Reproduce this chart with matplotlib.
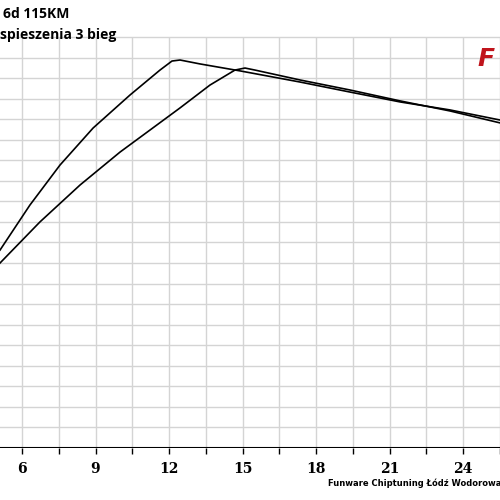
import matplotlib.pyplot as plt
import numpy as np

# curve 1 (earlier peak)
x1 = [5.10, 6.32, 7.55, 8.90, 10.41, 11.63, 12.12, 12.45, 13.26, 14.90, 17.34, 19.39, 21.43, 23.47, 25.51]
y1 = [9.63, 11.82, 13.77, 15.57, 17.18, 18.39, 18.83, 18.88, 18.69, 18.35, 17.81, 17.32, 16.84, 16.45, 15.96]
# curve 2 (later peak)
x2 = [5.10, 6.73, 8.37, 10.00, 11.22, 12.45, 13.67, 14.69, 15.10, 15.51, 17.34, 19.39, 21.43, 23.47, 25.51]
y2 = [9.00, 11.00, 12.80, 14.40, 15.47, 16.55, 17.66, 18.39, 18.49, 18.39, 17.91, 17.42, 16.89, 16.40, 15.82]
xticks = [6, 9, 12, 15, 18, 21, 24]

fig = plt.figure(figsize=(5, 5), dpi=100)
ax = fig.add_axes([0, 0.104, 1, 0.896])
for s in ax.spines.values():
    s.set_visible(False)

gx = np.arange(4.5, 26, 1.5)
ax.vlines(gx, 0, 20, color='#d4d4d4', lw=1)
ax.hlines(np.arange(1, 21), 4.5, 26, color='#d4d4d4', lw=1)
ax.axhline(0, color='black', lw=1.5)

ax.plot(x1, y1, color='black', lw=1.2)
ax.plot(x2, y2, color='black', lw=1.2)

ax.set_xticks(gx, minor=True)
ax.set_xticks(xticks)
ax.set_xticklabels([str(t) for t in xticks], fontsize=10, fontweight='bold', family='DejaVu Serif')
ax.tick_params(axis='x', which='both', direction='out', length=4, width=1, pad=6)
ax.set_yticks([])
ax.set_xlim(5.10, 25.51)
ax.set_ylim(0, 21.8)

fig.text(0.006, 0.985, '6d 115KM', fontsize=10, fontweight='bold', family='Open Sans', va='top')
fig.text(0.0, 0.945, 'spieszenia 3 bieg', fontsize=10, fontweight='bold', family='Open Sans', va='top')
fig.text(0.955, 0.905, 'F', fontsize=18, fontweight='bold', style='italic', color='#c0141c', va='top')
fig.text(0.655, 0.034, 'Funware Chiptuning Łódź Wodorowanie', fontsize=6, fontweight='bold', va='center')

fig.savefig('out.png', dpi=100)
